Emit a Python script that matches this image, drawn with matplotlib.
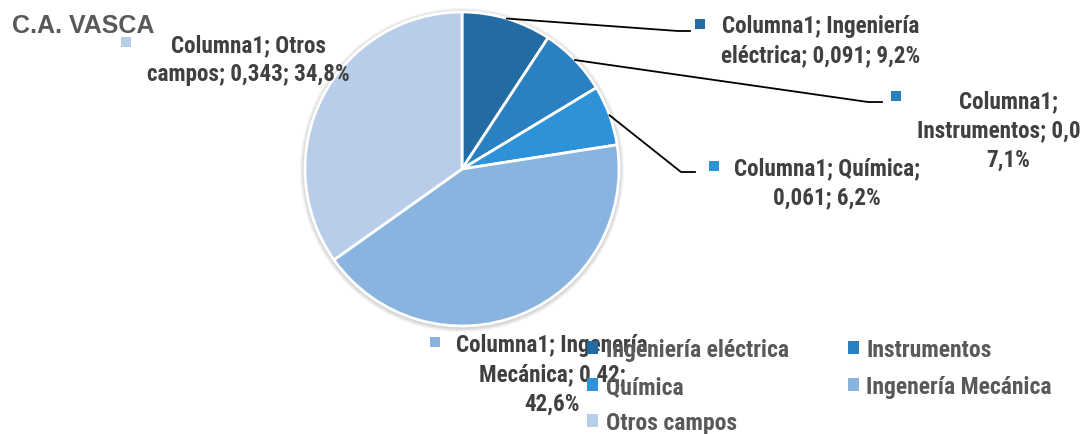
import numpy as np
import matplotlib.pyplot as plt
from matplotlib.patches import Circle

# data
categorias = ['Ingeniería eléctrica', 'Instrumentos', 'Química',
              'Ingenería Mecánica', 'Otros campos']
valores = [0.091, 0.07, 0.061, 0.42, 0.343]
etiquetas_val = ['0,091', '0,07', '0,061', '0,42', '0,343']
colores = ['#236ca3', '#2a80c0', '#2e92d8', '#8ab4e0', '#b8cdea']

plt.rcParams['font.family'] = ['Roboto Condensed', 'DejaVu Sans']
plt.rcParams['font.stretch'] = 'condensed'
plt.rcParams['font.weight'] = 'bold'

W, H = 1081, 435
fig = plt.figure(figsize=(W / 100, H / 100), dpi=100)
ax = fig.add_axes([0, 0, 1, 1])

cx, cy, r = 462, H - 170, 157

# soft shadow round the pie
for k in range(5):
    ax.add_patch(Circle((cx, cy - 1), r + 1 + k, color='#000000', alpha=0.04,
                        lw=0, zorder=0))

wedges, _ = ax.pie(valores, colors=colores, startangle=90, counterclock=False,
                   center=(cx, cy), radius=r, explode=[0, 0, 0, 0, 0.015],
                   wedgeprops=dict(edgecolor='white', linewidth=2),
                   frame=True)
ax.set_xlim(0, W)
ax.set_ylim(0, H)
ax.set_aspect('equal')
ax.axis('off')

total = sum(valores)
pct = [v / total * 100 for v in valores]

txt_color = '#404040'
fs = 16.7

# data labels: (lines, center x, first baseline y, square centre, leader)
label_cfg = [
    (['Columna1; Ingeniería', 'eléctrica; {}; {:.1f}%'], 821, 33, (700, 25),
     [(678, 32), (690, 32)]),
    (['Columna1;', 'Instrumentos; {};', '{:.1f}%'], 1008, 108, (896, 97),
     [(868, 103), (882, 103)]),
    (['Columna1; Química;', '{}; {:.1f}%'], 827, 175, (714, 167),
     [(681, 173), (695, 173)]),
    (['Columna1; Ingenería', 'Mecánica; {};', '{:.1f}%'], 552, 352, (435, 343),
     None),
    (['Columna1; Otros', 'campos; {}; {:.1f}%'], 248, 52, (126, 43), None),
]

for i, (lines, tx, by, sq, leader) in enumerate(label_cfg):
    text = '\n'.join(lines).format(etiquetas_val[i], pct[i]).replace('.', ',')
    for k, line in enumerate(text.split('\n')):
        ax.text(tx, H - (by + 29.5 * k), line, ha='center', va='baseline',
                fontsize=fs, color=txt_color, fontweight='bold', zorder=6)
    ax.scatter([sq[0]], [H - sq[1]], marker='s', s=60, color=colores[i],
               linewidths=0, zorder=5)
    if leader is not None:
        w = wedges[i]
        ang = np.deg2rad((w.theta1 + w.theta2) / 2)
        x0 = cx + r * np.cos(ang)
        y0 = cy + r * np.sin(ang)
        xs = [x0] + [p[0] for p in leader]
        ys = [y0] + [H - p[1] for p in leader]
        ax.plot(xs, ys, color='black', lw=1.3, zorder=4)

# title
fig.text(12 / W, 1 - 33 / H, 'C.A. VASCA', fontsize=18, color='#595959',
         fontweight='bold', family='Liberation Sans', stretch='normal',
         va='baseline')

# legend
order = [0, 2, 4, 1, 3]
leg = fig.legend([wedges[i] for i in order], [categorias[i] for i in order],
                 ncol=2, loc='upper left', bbox_to_anchor=(587 / W, 1 - 339 / H),
                 frameon=False, fontsize=17, handlelength=0.47,
                 handleheight=0.47, handletextpad=0.32, columnspacing=2.5,
                 labelspacing=0.58, borderpad=0, borderaxespad=0)
for t in leg.get_texts():
    t.set_color('#595959')
for p in leg.get_patches():
    p.set_edgecolor('none')
leg.set_zorder(10)

fig.savefig('out.png', dpi=100)
